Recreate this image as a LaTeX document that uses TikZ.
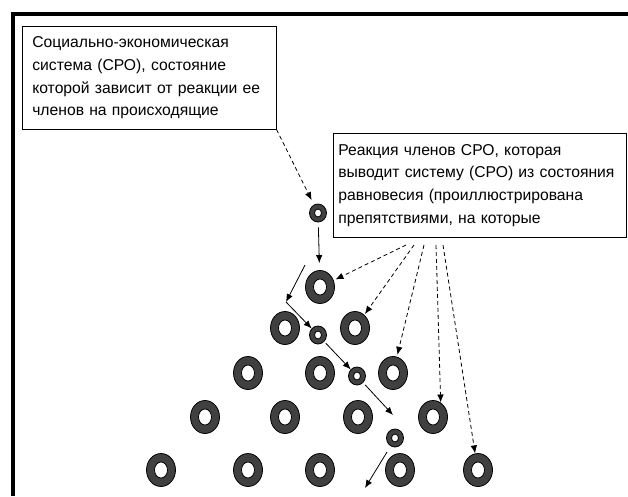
\documentclass[tikz,border=0pt]{standalone}
\usepackage{fontspec}
\setmainfont{Liberation Sans}
\usetikzlibrary{arrows.meta,shapes.geometric}

\definecolor{ringgray}{RGB}{64,64,64}
\tikzset{
	bigring/.style={ellipse, draw=black, line width=0.8pt, fill=ringgray, minimum width=29pt, minimum height=33pt, inner sep=0pt,
		path picture={\filldraw[fill=white,draw=black,line width=0.8pt] (path picture bounding box.center) ellipse (6.5pt and 8pt);}},
	smallring/.style={ellipse, draw=black, line width=0.8pt, fill=ringgray, minimum width=17pt, minimum height=18pt, inner sep=0pt,
		path picture={\filldraw[fill=white,draw=black,line width=0.8pt] (path picture bounding box.center) ellipse (3.5pt and 4pt);}},
	notebox/.style={draw=black, line width=0.6pt, fill=white, anchor=north west, align=left, inner xsep=10pt,
		font=\fontsize{15.7}{22.7}\selectfont},
	move/.style={->, line width=0.8pt},
	react/.style={->, line width=0.8pt, dash pattern=on 4pt off 3pt}
}

\begin{document}
\begin{tikzpicture}[x=1pt,y=-1pt,>={Latex[length=8pt,width=6.5pt]}]
	\useasboundingbox (0,0) rectangle (628,496);
	\draw[line width=4.5pt] (13,496) |- (628,14);
	%
	\node[notebox, minimum width=254pt, minimum height=103pt, text width=234pt] (note1) at (22,26)
		{Социально-экономическая\\система (СРО), состояние\\которой зависит от реакции ее\\членов на происходящие};
	\node[notebox, inner xsep=5pt, minimum width=293pt, minimum height=104pt, text width=283pt] (note2) at (333,133)
		{Реакция членов СРО, которая\\выводит систему (СРО) из состояния\\равновесия (проиллюстрирована\\препятствиями, на которые};
	%
	\node[smallring] (s1) at (318,213) {};
	\node[bigring] (b1) at (320,287) {};
	\node[bigring] (b2a) at (285,328) {};
	\node[smallring] (s2) at (318,335) {};
	\node[bigring] (b2b) at (355,328) {};
	\node[bigring] (b3a) at (248,373) {};
	\node[bigring] (b3b) at (320,373) {};
	\node[smallring] (s3) at (357,376) {};
	\node[bigring] (b3c) at (393,373) {};
	\node[bigring] (b4a) at (205,417) {};
	\node[bigring] (b4b) at (285,417) {};
	\node[bigring] (b4c) at (358,417) {};
	\node[smallring] (s4) at (395,438) {};
	\node[bigring] (b4d) at (433,417) {};
	\node[bigring] (b5a) at (161,470) {};
	\node[bigring] (b5b) at (248,470) {};
	\node[bigring] (b5c) at (320,470) {};
	\node[bigring] (b5d) at (400,470) {};
	\node[bigring] (b5e) at (478,470) {};
	%
	\coordinate (a1) at (305,265);
	\coordinate (a2) at (286,302);
	\coordinate (a3) at (393,415);
	\coordinate (a4) at (387,452);
	\coordinate (a5) at (365,488);
	\draw[move, shorten <=5pt, shorten >=7pt] (s1) -- (b1);
	\draw[move] (a1) -- (a2);
	\draw[move] (a2) -- (s2);
	\draw[move, shorten <=2pt] (s2) -- (s3);
	\draw[move, shorten <=3pt] (s3) -- (a3);
	\draw[move] (a4) -- (a5);
	%
	\coordinate (d1) at (406,245);
	\coordinate (d2) at (414,245);
	\coordinate (d3) at (424,245);
	\coordinate (d4) at (436,245);
	\coordinate (d5) at (443,245);
	\draw[react, shorten >=5pt] (note1.south east) -- (s1);
	\draw[react, shorten >=2pt] (d1) -- (b1);
	\draw[react, shorten >=1pt] (d2) -- (b2b);
	\draw[react, shorten >=2pt] (d3) -- (b3c);
	\draw[react] (d4) -- (b4d.62);
	\draw[react] (d5) -- (b5e.100);
\end{tikzpicture}
\end{document}
